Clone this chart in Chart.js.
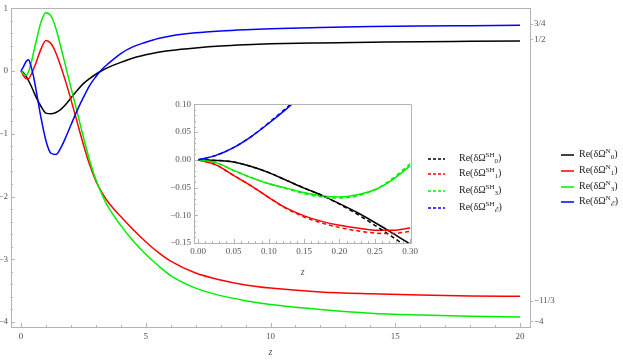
<!DOCTYPE html>
<html>
<head>
<meta charset="utf-8">
<script src="https://cdn.jsdelivr.net/npm/chart.js@4.4.0/dist/chart.umd.min.js"></script>
<style>
  body { margin: 0; background: #fff; }
  #wrap { position: relative; width: 623px; height: 360px; }
  #main { position: absolute; left: 0; top: 0; }
  #inset { position: absolute; left: 165px; top: 96px; }
  .lg { position: absolute; height: 16px; line-height: 16px; font: 10px "Liberation Serif", serif; color: #222; white-space: nowrap; }
  .lg svg { vertical-align: middle; }
  .sp { font-size: 7px; position: relative; top: -4px; }
  .sb { font-size: 7px; position: relative; top: 2px; }
</style>
</head>
<body>
<div id="wrap">
  <canvas id="main" width="623" height="360"></canvas>
  <canvas id="inset" width="256" height="184"></canvas>
</div>
<script>
// main plot: Re(dOmega^N_l) against z
const zMain = [0, 0.1, 0.2, 0.3, 0.4, 0.5, 0.6, 0.8, 1, 1.2, 1.4, 1.6, 1.8, 2, 2.25, 2.5, 2.75, 3, 3.25, 3.5, 4, 4.5, 5, 5.5, 6, 7, 8, 9, 10, 12, 14, 16, 18, 20];
const n0 = [0, -0.025, -0.078, -0.15, -0.23, -0.32, -0.41, -0.56, -0.67, -0.68, -0.66, -0.61, -0.53, -0.43, -0.31, -0.20, -0.12, -0.05, 0.01, 0.06, 0.14, 0.21, 0.26, 0.30, 0.33, 0.37, 0.40, 0.42, 0.435, 0.45, 0.46, 0.47, 0.475, 0.48];
const n1 = [0, -0.07, -0.12, -0.12, -0.06, 0.03, 0.13, 0.35, 0.49, 0.44, 0.29, 0.07, -0.18, -0.45, -0.81, -1.17, -1.49, -1.75, -1.94, -2.09, -2.32, -2.53, -2.72, -2.89, -3.03, -3.22, -3.33, -3.41, -3.46, -3.52, -3.55, -3.57, -3.585, -3.59];
const n3 = [0, -0.045, -0.067, -0.01, 0.12, 0.29, 0.46, 0.78, 0.93, 0.88, 0.68, 0.38, 0.06, -0.26, -0.65, -1.05, -1.42, -1.73, -1.97, -2.17, -2.46, -2.71, -2.92, -3.10, -3.26, -3.46, -3.58, -3.66, -3.72, -3.80, -3.86, -3.89, -3.91, -3.92];
const nE = [0, 0.07, 0.15, 0.18, 0.08, -0.08, -0.29, -0.74, -1.11, -1.31, -1.33, -1.22, -1.05, -0.86, -0.63, -0.42, -0.23, -0.09, 0.03, 0.12, 0.28, 0.39, 0.46, 0.52, 0.56, 0.61, 0.64, 0.66, 0.675, 0.695, 0.71, 0.72, 0.725, 0.73];
const xMainTicks = [0, 5, 10, 15, 20];
const yMainTicks = [-4, -3, -2, -1, 0, 1];
const yRightTicks = [0.75, 0.5, -11 / 3, -4];
const yRightLabels = ['3/4', '1/2', '\u221211/3', '\u22124'];

// inset: small z, N (solid) vs SH (dashed)
const zIn = [0, 0.025, 0.05, 0.075, 0.1, 0.125, 0.15, 0.175, 0.2, 0.225, 0.25, 0.275, 0.3];
const inN0 = [0, -0.001, -0.004, -0.012, -0.023, -0.037, -0.051, -0.064, -0.079, -0.095, -0.113, -0.132, -0.152];
const inSH0 = [0, -0.001, -0.004, -0.012, -0.023, -0.037, -0.051, -0.064, -0.080, -0.098, -0.118, -0.139, -0.161];
const inN1 = [0, -0.009, -0.028, -0.047, -0.068, -0.087, -0.101, -0.111, -0.118, -0.123, -0.127, -0.127, -0.123];
const inSH1 = [0, -0.009, -0.028, -0.047, -0.068, -0.088, -0.103, -0.114, -0.122, -0.128, -0.132, -0.133, -0.129];
const inN3 = [0, -0.005, -0.019, -0.032, -0.043, -0.051, -0.059, -0.065, -0.067, -0.063, -0.054, -0.036, -0.011];
const inSH3 = [0, -0.005, -0.019, -0.032, -0.043, -0.052, -0.061, -0.067, -0.069, -0.065, -0.054, -0.034, -0.007];
const inNE = [0, 0.008, 0.022, 0.042, 0.066, 0.092, 0.12, 0.15];
const inSHE = [0, 0.008, 0.022, 0.042, 0.067, 0.094, 0.122, 0.152];
const xInTicks = [0, 0.05, 0.1, 0.15, 0.2, 0.25, 0.3];
const yInTicks = [-0.15, -0.1, -0.05, 0, 0.05, 0.1];

const subs = ['0', '1', '3', '\u2130'];
const colors = ['#000000', '#ff0000', '#00ee00', '#0000ff'];

const grey = '#b4b4b4';
const labelColor = '#555';
const tickFont = { family: 'Liberation Serif', size: 9 };

function pts(xs, ys) {
  return ys.map((y, i) => ({ x: xs[i], y: y }));
}

function minorList(a, b, step) {
  const out = [];
  for (let v = a; v <= b + 1e-9; v += step) out.push(+v.toFixed(4));
  return out;
}

function minus(s) { return String(s).replace('-', '\u2212'); }

// inward Mathematica-style ticks, plus optional frame
function tickPlugin(cfg) {
  return {
    id: 'inTicks',
    afterDraw(chart) {
      const ctx = chart.ctx, a = chart.chartArea;
      const xs = chart.scales.x, ys = chart.scales.y;
      ctx.save();
      ctx.strokeStyle = grey;
      ctx.lineWidth = 1;
      ctx.beginPath();
      cfg.xMinor.forEach(v => {
        const p = Math.round(xs.getPixelForValue(v)) + 0.5;
        const len = cfg.xMajor.some(m => Math.abs(m - v) < 1e-6) ? 4 : 2;
        ctx.moveTo(p, a.bottom); ctx.lineTo(p, a.bottom - len);
      });
      cfg.yMinor.forEach(v => {
        const p = Math.round(ys.getPixelForValue(v)) + 0.5;
        const len = cfg.yMajor.some(m => Math.abs(m - v) < 1e-6) ? 4 : 2;
        ctx.moveTo(a.left, p); ctx.lineTo(a.left + len, p);
      });
      if (cfg.frame) {
        ctx.rect(Math.round(a.left) + 0.5, Math.round(a.top) + 0.5, Math.round(a.right - a.left), Math.round(a.bottom - a.top));
      } else {
        ctx.moveTo(a.left, Math.round(a.top) + 0.5);
        ctx.lineTo(a.right, Math.round(a.top) + 0.5);
      }
      ctx.stroke();
      ctx.restore();
    }
  };
}

const noGrid = { display: false, drawTicks: false };

new Chart(document.getElementById('main'), {
  type: 'line',
  data: {
    datasets: [
      { data: pts(zMain, nE), borderColor: colors[3] },
      { data: pts(zMain, n3), borderColor: colors[2] },
      { data: pts(zMain, n1), borderColor: colors[1] },
      { data: pts(zMain, n0), borderColor: colors[0] }
    ]
  },
  options: {
    responsive: false,
    animation: false,
    devicePixelRatio: 1,
    layout: { padding: { top: 6, left: 0, right: 0, bottom: 0 } },
    plugins: { legend: { display: false }, tooltip: { enabled: false } },
    elements: {
      point: { radius: 0 },
      line: { borderWidth: 1.5, cubicInterpolationMode: 'monotone', fill: false }
    },
    scales: {
      x: {
        type: 'linear', position: 'bottom', min: -0.4, max: 20.4,
        afterBuildTicks: s => { s.ticks = xMainTicks.map(v => ({ value: v })); },
        afterFit: s => { s.height = 33; },
        grid: noGrid,
        border: { color: grey },
        ticks: { font: tickFont, color: labelColor, padding: 4, maxRotation: 0, autoSkip: false },
        title: { display: true, text: 'z', color: labelColor, font: { family: 'Liberation Serif', size: 10, style: 'italic' }, padding: { top: 0, bottom: 2 } }
      },
      y: {
        type: 'linear', position: 'left', min: -4.08, max: 1.0,
        afterBuildTicks: s => { s.ticks = yMainTicks.map(v => ({ value: v })); },
        afterFit: s => { s.width = 11; },
        grid: noGrid,
        border: { color: grey },
        ticks: { font: tickFont, color: labelColor, padding: 3, autoSkip: false, callback: v => minus(v) }
      },
      y2: {
        type: 'linear', position: 'right', min: -4.08, max: 1.0,
        afterBuildTicks: s => { s.ticks = yRightTicks.map(v => ({ value: v })); },
        afterFit: s => { s.width = 93; },
        grid: { display: true, drawOnChartArea: false, drawTicks: true, tickLength: 3, color: grey },
        border: { color: grey },
        ticks: {
          font: tickFont, color: labelColor, padding: 1, autoSkip: false,
          callback: (v, i) => yRightLabels[i]
        }
      }
    }
  },
  plugins: [tickPlugin({
    xMajor: xMainTicks, xMinor: minorList(0, 20, 1),
    yMajor: yMainTicks, yMinor: minorList(-4, 1, 0.2),
    frame: false
  })]
});

new Chart(document.getElementById('inset'), {
  type: 'line',
  data: {
    datasets: [
      { data: pts(zIn, inSHE), borderColor: colors[3], borderDash: [4, 3] },
      { data: pts(zIn, inSH3), borderColor: colors[2], borderDash: [4, 3] },
      { data: pts(zIn, inSH1), borderColor: colors[1], borderDash: [4, 3] },
      { data: pts(zIn, inSH0), borderColor: colors[0], borderDash: [4, 3] },
      { data: pts(zIn, inNE), borderColor: colors[3] },
      { data: pts(zIn, inN3), borderColor: colors[2] },
      { data: pts(zIn, inN1), borderColor: colors[1] },
      { data: pts(zIn, inN0), borderColor: colors[0] }
    ]
  },
  options: {
    responsive: false,
    animation: false,
    devicePixelRatio: 1,
    layout: { padding: { top: 6, left: 0, right: 5, bottom: 0 } },
    plugins: { legend: { display: false }, tooltip: { enabled: false } },
    elements: {
      point: { radius: 0 },
      line: { borderWidth: 1.5, cubicInterpolationMode: 'monotone', fill: false }
    },
    scales: {
      x: {
        type: 'linear', position: 'bottom', min: -0.006, max: 0.3015,
        afterBuildTicks: s => { s.ticks = xInTicks.map(v => ({ value: v })); },
        afterFit: s => { s.height = 37; },
        grid: noGrid,
        border: { color: grey },
        ticks: { font: tickFont, color: labelColor, padding: 3, maxRotation: 0, autoSkip: false, callback: v => v.toFixed(2) },
        title: { display: true, text: 'z', color: labelColor, font: { family: 'Liberation Serif', size: 10, style: 'italic' }, padding: { top: 0, bottom: 2 } }
      },
      y: {
        type: 'linear', position: 'left', min: -0.15, max: 0.10,
        afterBuildTicks: s => { s.ticks = yInTicks.map(v => ({ value: v })); },
        afterFit: s => { s.width = 29; },
        grid: noGrid,
        border: { color: grey },
        ticks: { font: tickFont, color: labelColor, padding: 3, autoSkip: false, callback: v => minus(v.toFixed(2)) }
      }
    }
  },
  plugins: [tickPlugin({
    xMajor: xInTicks, xMinor: minorList(0, 0.3, 0.01),
    yMajor: yInTicks, yMinor: minorList(-0.15, 0.1, 0.01),
    frame: true
  })]
});

// legends (HTML so the super/subscripts stay real text)
const wrap = document.getElementById('wrap');
function addLegend(left, tops, sup, dashed, lineW, gap) {
  subs.forEach((s, i) => {
    const d = document.createElement('div');
    d.className = 'lg';
    d.style.left = left + 'px';
    d.style.top = (tops[i] - 8) + 'px';
    const dash = dashed ? ' stroke-dasharray="3,2"' : '';
    d.innerHTML = '<svg width="' + lineW + '" height="4"><line x1="0" y1="2" x2="' + lineW + '" y2="2" stroke="' + colors[i] + '" stroke-width="1.5"' + dash + '/></svg>' +
      '<span style="margin-left:' + gap + 'px">Re(\u03b4\u03a9<span class="sp">' + sup + '</span><span class="sb">' + s + '</span>)</span>';
    wrap.appendChild(d);
  });
}
addLegend(428, [160, 175, 192, 209], 'SH', true, 17, 14);
addLegend(561, [156, 172, 188, 203], 'N', false, 13, 5);
</script>
</body>
</html>
